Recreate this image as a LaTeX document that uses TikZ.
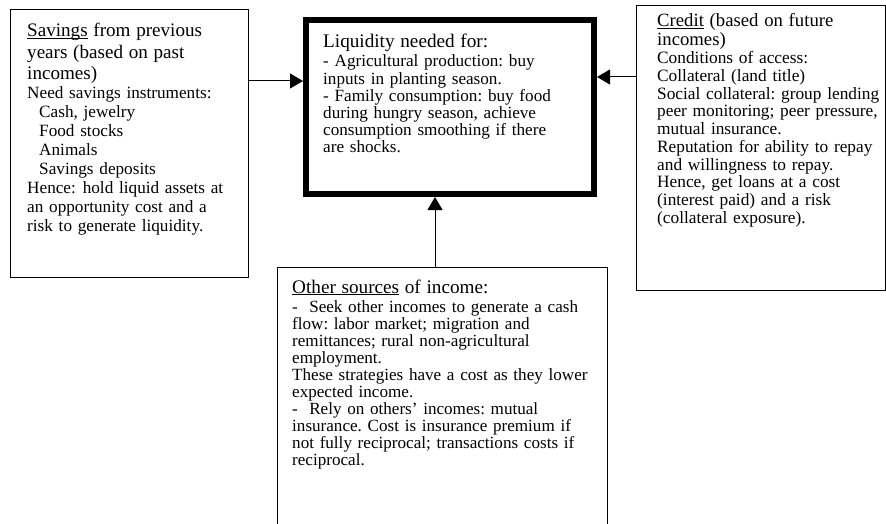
\documentclass[tikz,border=0pt]{standalone}
\usepackage{fontspec}
\setmainfont{Liberation Serif}
\usetikzlibrary{arrows.meta}
\frenchspacing

\def\headfont{\fontsize{19.1}{21.5}\selectfont}
\def\thinline{1pt}
\def\thickline{6pt}

\begin{document}
\begin{tikzpicture}[x=1pt, y=-1pt,
    box/.style = {draw, line width=\thinline, inner sep=0pt, anchor=north west},
    mainbox/.style = {box, line width=\thickline},
    txt/.style = {inner sep=0pt, anchor=base west, align=left, text width=340pt},
    arr/.style = {line width=\thinline, -{Triangle[length=13pt,width=15pt]}}]
  \useasboundingbox (0,0) rectangle (886,524);
  \clip (0,0) rectangle (886,524);             % Lower box runs off the page
  % Boxes
  \node[box, minimum width=238pt, minimum height=268pt] (savings) at (10,9) {};
  \node[mainbox, minimum width=288pt, minimum height=174pt] (liquidity) at (303,17) {};
  \node[box, minimum width=249pt, minimum height=285pt] (credit) at (636,5) {};
  \node[box, minimum width=330pt, minimum height=290pt] (other) at (277,267) {};
  % Texts, placed at the first baseline
  \node[txt, font=\fontsize{17.2}{18.9}\selectfont] (savingstext) at (27,37) {%
    {\headfont\underbar{Savings} from previous\\ years (based on past\\ incomes)\par}
    Need savings instruments:\\
    \hspace*{12pt}Cash, jewelry\\
    \hspace*{12pt}Food stocks\\
    \hspace*{12pt}Animals\\
    \hspace*{12pt}Savings deposits\\
    Hence:\hspace{0.4em}hold liquid assets at\\
    an opportunity cost and a\\
    risk to generate liquidity.};
  \node[txt, font=\fontsize{17.15}{17.2}\selectfont] (liquiditytext) at (323,48) {%
    {\fontsize{19.2}{19}\selectfont Liquidity needed for:\par}\vspace{1.8pt}
    - Agricultural production: buy\\
    inputs in planting season.\\
    - Family consumption: buy food\\
    during hungry season, achieve\\
    consumption smoothing if there\\
    are shocks.};
  \node[txt, font=\fontsize{17.3}{17.75}\selectfont] (credittext) at (657,27) {%
    {\fontsize{18.7}{19}\selectfont\underbar{Credit} (based on future\\ incomes)\par}
    Conditions of access:\\
    Collateral (land title)\\
    Social collateral: group lending\\
    peer monitoring; peer pressure,\\
    mutual insurance.\\
    Reputation for ability to repay\\
    and willingness to repay.\\
    Hence, get loans at a cost\\
    (interest paid) and a risk\\
    (collateral exposure).};
  \node[txt, font=\fontsize{17.1}{17}\selectfont] (othertext) at (292,293) {%
    {\fontsize{19.2}{19}\selectfont\underbar{Other sources} of income:\par}\vspace{2pt}
    - \ Seek other incomes to generate a cash\\
    flow: labor market; migration and\\
    remittances; rural non-agricultural\\
    employment.\\
    These strategies have a cost as they lower\\
    expected income.\\
    - \ Rely on others’ incomes: mutual\\
    insurance. Cost is insurance premium if\\
    not fully reciprocal; transactions costs if\\
    reciprocal.};
  % Connectors into the main box
  \coordinate (leftlevel) at (0,81);
  \coordinate (rightlevel) at (0,77);
  \coordinate (uplevel) at (435,0);
  \draw[arr] (savings.east |- leftlevel) -- (liquidity.west |- leftlevel);
  \draw[arr] (credit.west |- rightlevel) -- (liquidity.east |- rightlevel);
  \draw[arr] (other.north -| uplevel) -- (liquidity.south -| uplevel);
\end{tikzpicture}
\end{document}
